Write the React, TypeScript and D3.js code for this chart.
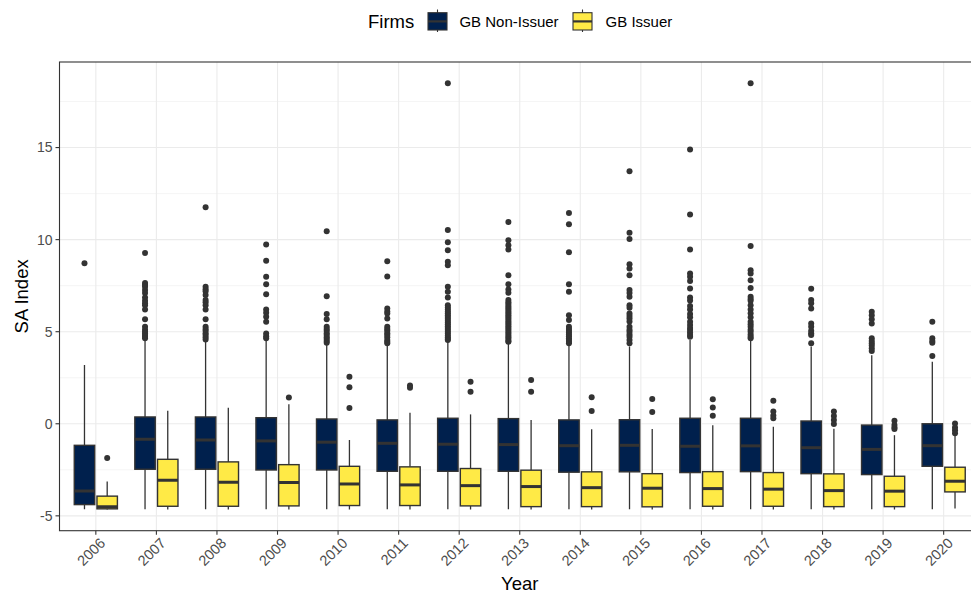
import React from "react";
import * as d3 from "d3";

// box stats: [lower whisker, q1, median, q3, upper whisker]
const years = ["2006", "2007", "2008", "2009", "2010", "2011", "2012", "2013", "2014", "2015", "2016", "2017", "2018", "2019", "2020"];
const groups = ["GB Non-Issuer", "GB Issuer"];
const yTicks = [-5, 0, 5, 10, 15];
const yMinor = [-2.5, 2.5, 7.5, 12.5, 17.5];

const nonIssuerStats = [
  [-4.64, -4.39, -3.65, -1.17, 3.19],
  [-4.64, -2.47, -0.84, 0.37, 4.55],
  [-4.64, -2.47, -0.88, 0.37, 4.5],
  [-4.64, -2.51, -0.93, 0.33, 4.55],
  [-4.64, -2.51, -1.0, 0.26, 4.3],
  [-4.64, -2.58, -1.06, 0.21, 4.25],
  [-4.64, -2.58, -1.11, 0.3, 4.45],
  [-4.64, -2.58, -1.13, 0.28, 4.35],
  [-4.64, -2.63, -1.19, 0.21, 4.3],
  [-4.64, -2.61, -1.17, 0.22, 4.2],
  [-4.64, -2.65, -1.22, 0.3, 4.55],
  [-4.64, -2.6, -1.2, 0.3, 4.5],
  [-4.64, -2.71, -1.3, 0.15, 4.2],
  [-4.64, -2.76, -1.39, -0.07, 3.72],
  [-4.64, -2.31, -1.19, 0.0, 3.37],
];

const nonIssuerOutliers = [
  [8.72],
  [9.27, 7.65, 7.55, 7.44, 7.26, 7.1, 6.86, 6.68, 6.55, 6.44, 6.21, 5.67, 5.27, 5.1, 5.0, 4.9, 4.82, 4.72, 4.64],
  [11.76, 7.44, 7.3, 7.2, 6.99, 6.72, 6.6, 6.44, 6.21, 5.67, 5.27, 5.15, 5.05, 4.92, 4.82, 4.7, 4.58],
  [9.74, 8.85, 7.98, 7.58, 7.04, 6.21, 6.03, 5.81, 5.54, 4.9, 4.75, 4.64],
  [10.46, 6.93, 5.96, 5.67, 5.27, 5.15, 5.05, 4.92, 4.82, 4.7, 4.6, 4.5, 4.4],
  [8.83, 8.0, 6.26, 6.1, 5.99, 5.72, 5.27, 5.15, 5.05, 4.92, 4.82, 4.7, 4.55, 4.45, 4.37],
  [18.49, 10.53, 9.86, 9.43, 8.8, 8.61, 7.44, 7.17, 6.86, 6.44, 6.32, 6.2, 6.1, 6.0, 5.9, 5.8, 5.7, 5.6, 5.5, 5.4, 5.3, 5.2, 5.1, 5.0, 4.9, 4.8, 4.7, 4.6, 4.55],
  [10.96, 9.97, 9.7, 9.47, 8.07, 7.58, 7.29, 7.11, 6.72, 6.6, 6.5, 6.4, 6.3, 6.2, 6.1, 6.0, 5.9, 5.8, 5.7, 5.6, 5.5, 5.4, 5.3, 5.2, 5.1, 5.0, 4.9, 4.8, 4.7, 4.6, 4.5, 4.45],
  [11.45, 10.84, 9.32, 7.58, 7.17, 5.9, 5.63, 5.27, 5.15, 5.05, 4.95, 4.85, 4.75, 4.65, 4.55, 4.45, 4.37],
  [13.71, 10.37, 10.03, 8.67, 8.43, 8.07, 7.26, 7.1, 6.9, 6.44, 6.3, 5.99, 5.85, 5.72, 5.55, 5.27, 5.1, 5.0, 4.85, 4.73, 4.55, 4.37],
  [14.89, 11.36, 9.47, 8.16, 7.98, 7.76, 7.35, 6.86, 6.7, 6.39, 6.21, 5.96, 5.78, 5.54, 5.36, 5.2, 5.09, 4.95, 4.82, 4.73],
  [18.49, 9.66, 8.34, 8.16, 7.8, 7.38, 6.9, 6.78, 6.68, 6.44, 6.21, 6.0, 5.78, 5.54, 5.4, 5.27, 5.1, 5.0, 4.85, 4.73, 4.64],
  [7.33, 6.72, 6.54, 6.26, 5.45, 5.27, 5.05, 4.91, 4.82, 4.37],
  [6.08, 5.9, 5.67, 5.45, 4.64, 4.5, 4.37, 4.25, 4.1, 3.95],
  [5.54, 4.64, 4.5, 4.4, 3.68],
];

const issuerStats = [
  [-4.65, -4.62, -4.51, -3.93, -3.14],
  [-4.65, -4.48, -3.07, -1.93, 0.71],
  [-4.65, -4.48, -3.17, -2.07, 0.87],
  [-4.65, -4.46, -3.19, -2.22, 1.06],
  [-4.65, -4.44, -3.27, -2.31, -0.88],
  [-4.65, -4.44, -3.32, -2.34, 0.6],
  [-4.65, -4.46, -3.36, -2.43, 0.51],
  [-4.65, -4.5, -3.41, -2.52, 0.21],
  [-4.65, -4.5, -3.47, -2.61, -0.3],
  [-4.65, -4.51, -3.5, -2.71, -0.28],
  [-4.65, -4.48, -3.52, -2.6, -0.08],
  [-4.65, -4.48, -3.55, -2.65, -0.16],
  [-4.65, -4.5, -3.63, -2.72, -0.27],
  [-4.65, -4.5, -3.66, -2.85, -0.62],
  [-4.6, -3.7, -3.12, -2.36, -0.6],
];

const issuerOutliers = [
  [-1.86],
  [],
  [],
  [1.42],
  [2.56, 1.98, 0.86],
  [2.08, 1.95],
  [2.28, 1.74],
  [2.38, 1.74],
  [1.44, 0.69],
  [1.35, 0.64],
  [1.33, 0.88, 0.44],
  [1.25, 0.66, 0.45, 0.3],
  [0.66, 0.42, 0.21, -0.01],
  [0.17, -0.07, -0.2, -0.28],
  [0.02, -0.2, -0.35, -0.52],
];

const fills = ["#00204D", "#FFEA46"];
const ink = "#333333";
const font = "'Liberation Sans', Arial, sans-serif";

const W = 971;
const H = 595;
const margin = { top: 62, right: -9, bottom: 64.3, left: 59.5 };

export default function App() {
  const left = margin.left;
  const right = W - margin.right;
  const top = margin.top;
  const bottom = H - margin.bottom;

  const allVals = [
    ...nonIssuerStats.flat(), ...nonIssuerOutliers.flat(),
    ...issuerStats.flat(), ...issuerOutliers.flat(),
  ];
  const lo = d3.min(allVals) as number;
  const hi = d3.max(allVals) as number;
  const pad = (hi - lo) * 0.05;

  const y = d3.scaleLinear().domain([lo - pad, hi + pad]).range([bottom, top]);
  const x = d3.scalePoint<string>().domain(years).range([left, right]).padding(0.6);
  const step = x.step();
  const dodge = d3.scaleBand<string>().domain(groups).range([-0.375 * step, 0.375 * step]).paddingInner(0.1).paddingOuter(0.05);
  const bw = dodge.bandwidth();

  const series = [
    { name: groups[0], stats: nonIssuerStats, outliers: nonIssuerOutliers, fill: fills[0] },
    { name: groups[1], stats: issuerStats, outliers: issuerOutliers, fill: fills[1] },
  ];

  return (
    <svg width={W} height={H} style={{ position: "absolute", left: 0, top: 0, background: "#fff" }} fontFamily={font}>
      <defs>
        <clipPath id="panel">
          <rect x={left} y={top} width={right - left} height={bottom - top} />
        </clipPath>
      </defs>
      <rect x={left} y={top} width={right - left} height={bottom - top} fill="#fff" />
      <g clipPath="url(#panel)">
        {yMinor.map((t) => (
          <line key={"m" + t} x1={left} x2={right} y1={y(t)} y2={y(t)} stroke="#EBEBEB" strokeWidth={0.55} />
        ))}
        {yTicks.map((t) => (
          <line key={"g" + t} x1={left} x2={right} y1={y(t)} y2={y(t)} stroke="#EBEBEB" strokeWidth={1.1} />
        ))}
        {years.map((yr) => (
          <line key={"v" + yr} x1={x(yr)} x2={x(yr)} y1={top} y2={bottom} stroke="#EBEBEB" strokeWidth={1.1} />
        ))}
        {series.map((s) =>
          years.map((yr, i) => {
            const cx = (x(yr) as number) + (dodge(s.name) as number) + bw / 2;
            const [wl, q1, med, q3, wh] = s.stats[i];
            return (
              <g key={s.name + yr}>
                <line x1={cx} x2={cx} y1={y(q3)} y2={y(wh)} stroke={ink} strokeWidth={1.3} />
                <line x1={cx} x2={cx} y1={y(q1)} y2={y(wl)} stroke={ink} strokeWidth={1.3} />
                <rect x={cx - bw / 2} y={y(q3)} width={bw} height={y(q1) - y(q3)} fill={s.fill} stroke={ink} strokeWidth={1.4} />
                <line x1={cx - bw / 2} x2={cx + bw / 2} y1={y(med)} y2={y(med)} stroke={ink} strokeWidth={3} />
                {s.outliers[i].map((o, j) => (
                  <circle key={j} cx={cx} cy={y(o)} r={3} fill={ink} />
                ))}
              </g>
            );
          })
        )}
      </g>
      <rect x={left} y={top} width={right - left} height={bottom - top} fill="none" stroke={ink} strokeWidth={1.1} />

      {yTicks.map((t) => (
        <g key={"yt" + t}>
          <line x1={left - 4} x2={left} y1={y(t)} y2={y(t)} stroke={ink} strokeWidth={1.1} />
          <text x={left - 7} y={y(t)} dy="0.35em" textAnchor="end" fontSize={14} fill="#4D4D4D">{t}</text>
        </g>
      ))}
      {years.map((yr) => (
        <g key={"xt" + yr}>
          <line x1={x(yr)} x2={x(yr)} y1={bottom} y2={bottom + 4} stroke={ink} strokeWidth={1.1} />
          <text transform={`translate(${(x(yr) as number) + 3},${bottom + 6}) rotate(-45)`} dy="0.71em" textAnchor="end" fontSize={14.5} fill="#4D4D4D">{yr}</text>
        </g>
      ))}

      <text x={(left + right) / 2} y={590} textAnchor="middle" fontSize={18.5} fill="#000">Year</text>
      <text transform={`translate(28,${(top + bottom) / 2}) rotate(-90)`} textAnchor="middle" fontSize={18.5} fill="#000">SA Index</text>

      <g>
        <text x={368} y={28} fontSize={18.5} fill="#000">Firms</text>
        {series.map((s, i) => {
          const kx = i === 0 ? 428 : 573;
          const tx = i === 0 ? 459.4 : 605.6;
          return (
            <g key={"lg" + s.name}>
              <line x1={kx + 9.5} x2={kx + 9.5} y1={9.5} y2={32} stroke={ink} strokeWidth={1.1} />
              <rect x={kx} y={12.7} width={19} height={17.3} fill={s.fill} stroke={ink} strokeWidth={1.1} />
              <line x1={kx} x2={kx + 19} y1={21.4} y2={21.4} stroke={ink} strokeWidth={2.2} />
              <text x={tx} y={27} fontSize={15} fill="#000">{s.name}</text>
            </g>
          );
        })}
      </g>
    </svg>
  );
}
